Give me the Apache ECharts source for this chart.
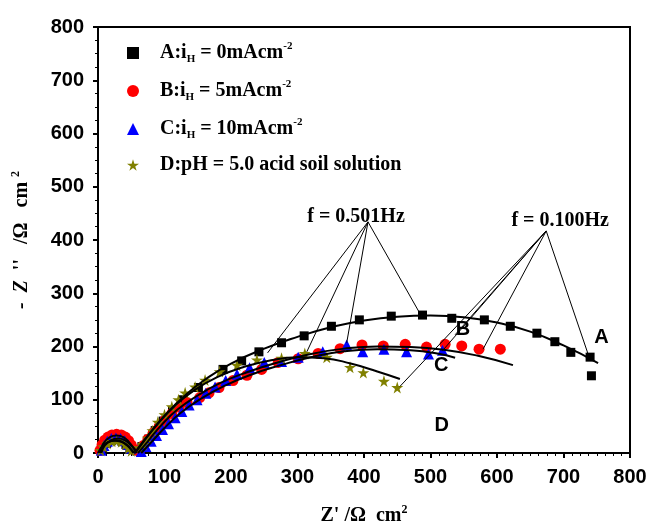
<!DOCTYPE html>
<html>
<head>
<meta charset="utf-8">
<script src="https://cdn.jsdelivr.net/npm/echarts@6/dist/echarts.min.js"></script>
<style>
  html, body { margin: 0; padding: 0; background: #fff; }
  #chart { width: 658px; height: 524px; }
</style>
</head>
<body>
<div id="chart"></div>
<script>
  // measured points, [Z', -Z'']
  const seriesA = [[7, 10], [13, 18], [20, 23], [28, 25], [36, 22], [42, 16], [48, 8],
    [58, 4], [66, 12], [76, 26], [86, 42], [98, 60], [112, 80], [128, 100], [151, 123], [188, 157],
    [216, 173], [242, 190], [276, 207], [310, 220], [351, 238], [393, 250], [441, 257], [488, 259],
    [532, 253], [581, 250], [620, 238], [660, 225], [687, 209], [711, 189], [740, 180], [742, 145]]
  const seriesB = [[3, 5], [6, 15], [10, 24], [15, 30], [21, 34], [28, 35], [35, 34], [41, 30], [46, 23], [50, 15], [54, 7],
    [62, 3], [68, 14], [75, 26], [83, 38], [92, 50], [101, 62], [111, 74], [122, 86], [134, 95], [153, 104],
    [167, 113], [182, 123], [203, 136], [224, 146], [246, 157], [271, 170], [301, 177], [331, 187], [364, 196],
    [397, 203], [429, 201], [462, 204], [494, 199], [522, 204], [547, 201], [573, 195], [605, 195]]
  const seriesC = [[5, 5], [9, 14], [14, 22], [20, 27], [27, 28], [34, 27], [40, 23], [45, 16], [49, 9],
    [65, 3], [72, 12], [80, 22], [88, 33], [97, 44], [106, 55], [116, 66], [126, 78], [137, 90], [149, 100],
    [162, 112], [176, 124], [192, 136], [209, 148], [228, 160], [250, 170], [276, 172], [301, 180], [338, 190],
    [374, 203], [398, 190], [430, 195], [464, 190], [497, 186], [518, 193]]
  const seriesD = [[4, 5], [8, 12], [14, 18], [21, 22], [28, 23], [35, 21], [41, 16], [46, 9], [50, 4],
    [62, 10], [68, 16], [75, 28], [82, 42], [90, 58], [100, 72], [111, 87], [121, 100], [131, 113], [146, 124],
    [161, 137], [183, 153], [209, 165], [239, 175], [276, 178], [311, 187], [344, 180], [379, 161], [399, 151],
    [430, 135], [450, 123]]

  // fitted curves
  const fitArcs = [
    [[2, 0], [8, 14], [18, 22], [28, 24], [38, 20], [46, 12], [52, 4], [56, 0]],
    [[3, 0], [8, 18], [18, 30], [28, 33], [38, 30], [47, 20], [54, 8], [58, 0]],
    [[5, 0], [10, 14], [20, 24], [30, 27], [40, 24], [50, 14], [58, 3]],
    [[0, 0], [6, 12], [15, 20], [25, 23], [35, 21], [44, 14], [50, 6], [53, 0]]
  ]
  const fitA = [[56, 0], [65, 15], [80, 40], [100, 70], [130, 107], [160, 137], [200, 168], [250, 196], [300, 218],
    [350, 236], [400, 249], [450, 256], [500, 258], [550, 255], [600, 245], [650, 228], [700, 202], [752, 169]]
  const fitB = [[60, 0], [75, 22], [95, 52], [120, 82], [150, 108], [185, 132], [225, 152], [270, 170], [320, 186],
    [370, 196], [420, 200], [470, 199], [520, 194], [570, 183], [624, 165]]
  const fitC = [[65, 0], [80, 20], [100, 47], [125, 76], [155, 102], [190, 126], [230, 147], [275, 165], [320, 180],
    [370, 191], [420, 195], [470, 193], [510, 187], [537, 179]]
  const fitD = [[55, 0], [70, 25], [90, 55], [115, 88], [145, 118], [180, 143], [220, 162], [260, 174], [300, 180],
    [340, 178], [380, 168], [420, 153], [454, 139]]

  // frequency pointers
  const apex501 = [406, 434]
  const ends501 = [[255, 188], [314, 190], [374, 207], [485, 260]]
  const apex100 = [674, 417]
  const ends100 = [[454, 125], [518, 192], [537, 222], [579, 195], [738, 182]]
  const freqLabels = [[388, 444, 'f = 0.501Hz'], [695, 436, 'f = 0.100Hz']]
  const curveLabels = [[757, 216, 'A'], [549, 232, 'B'], [516, 164, 'C'], [517, 52, 'D']]

  const legendText = {
    A: '{g| }{b|A:i}{s|H}{b| = 0mAcm}{p|-2}',
    B: '{g| }{b|B:i}{s|H}{b| = 5mAcm}{p|-2}',
    C: '{g| }{b|C:i}{s|H}{b| = 10mAcm}{p|-2}',
    D: '{g| }{b|D:pH = 5.0 acid soil solution}'
  }

  const star = 'path://M50,0 L61,35 L98,35 L68,57 L79,91 L50,70 L21,91 L32,57 L2,35 L39,35 Z'
  const serif = 'Liberation Serif'
  const sans = 'Liberation Sans'

  const chart = echarts.init(document.getElementById('chart'))

  const fitLine = (data) => ({
    type: 'line',
    data: data,
    smooth: true,
    showSymbol: false,
    symbol: 'none',
    silent: true,
    z: 5,
    lineStyle: {color: '#000', width: 2}
  })

  const pointerLines = []
  ends501.forEach(e => pointerLines.push({coords: [apex501, e]}))
  ends100.forEach(e => pointerLines.push({coords: [apex100, e]}))

  const series = [
    {name: 'A', type: 'scatter', data: seriesA, symbol: 'rect', symbolSize: 9, itemStyle: {color: '#000', opacity: 1}, z: 3},
    {name: 'B', type: 'scatter', data: seriesB, symbol: 'circle', symbolSize: 11, itemStyle: {color: '#ff0000', opacity: 1}, z: 3},
    {name: 'C', type: 'scatter', data: seriesC, symbol: 'triangle', symbolSize: 11, itemStyle: {color: '#0000ff', opacity: 1}, z: 3},
    {name: 'D', type: 'scatter', data: seriesD, symbol: star, symbolSize: 12, itemStyle: {color: '#808000', opacity: 1}, z: 3},
  ]
  fitArcs.forEach(a => series.push(fitLine(a)))
  ;[fitA, fitB, fitC, fitD].forEach(f => series.push(fitLine(f)))
  series.push({
    type: 'lines',
    coordinateSystem: 'cartesian2d',
    silent: true,
    z: 6,
    lineStyle: {color: '#000', width: 1, opacity: 1},
    data: pointerLines
  })

  const richBase = {fontFamily: serif, fontWeight: 'bold', color: '#000'}

  chart.setOption({
    animation: false,
    backgroundColor: '#fff',
    grid: {
      left: 98, right: 28, top: 27, bottom: 71,
      show: true, borderColor: '#000', borderWidth: 2,
      outerBoundsMode: 'none'
    },
    legend: {
      data: ['A', 'B', 'C', 'D'],
      orient: 'vertical',
      left: 122,
      top: 36,
      itemWidth: 12,
      itemHeight: 12,
      itemGap: 14,
      selectedMode: false,
      formatter: name => legendText[name],
      textStyle: {
        rich: {
          g: {width: 16, fontSize: 10},
          b: Object.assign({fontSize: 20, lineHeight: 24}, richBase),
          s: Object.assign({fontSize: 11, lineHeight: 11, verticalAlign: 'bottom'}, richBase),
          p: Object.assign({fontSize: 11, lineHeight: 11, verticalAlign: 'top'}, richBase)
        }
      }
    },
    xAxis: {
      type: 'value',
      min: 0, max: 800, interval: 100,
      name: '{n|Z\' /Ω  cm}{p|2}',
      nameLocation: 'middle',
      nameGap: 51,
      nameTextStyle: {
        rich: {
          n: Object.assign({fontSize: 20, lineHeight: 24}, richBase),
          p: Object.assign({fontSize: 12, lineHeight: 12, verticalAlign: 'top'}, richBase)
        }
      },
      axisLine: {show: true, lineStyle: {color: '#000', width: 2}},
      axisTick: {show: true, length: 5, lineStyle: {color: '#000', width: 2}},
      minorTick: {show: true, splitNumber: 8, length: 3, lineStyle: {color: '#000', width: 1}},
      splitLine: {show: false},
      minorSplitLine: {show: false},
      axisLabel: {fontFamily: sans, fontWeight: 'bold', fontSize: 20, color: '#000', margin: 14}
    },
    yAxis: {
      type: 'value',
      min: 0, max: 800, interval: 100,
      name: '{i|-  Z}{n|  \'\'   /Ω   cm }{p|2}',
      nameLocation: 'middle',
      nameGap: 64,
      nameTextStyle: {
        rich: {
          i: Object.assign({fontSize: 20, lineHeight: 24, fontStyle: 'italic'}, richBase),
          n: Object.assign({fontSize: 20, lineHeight: 24}, richBase),
          p: Object.assign({fontSize: 12, lineHeight: 12, verticalAlign: 'top'}, richBase)
        }
      },
      axisLine: {show: true, lineStyle: {color: '#000', width: 2}},
      axisTick: {show: true, length: 5, lineStyle: {color: '#000', width: 2}},
      minorTick: {show: true, splitNumber: 4, length: 3, lineStyle: {color: '#000', width: 1}},
      splitLine: {show: false},
      minorSplitLine: {show: false},
      axisLabel: {fontFamily: sans, fontWeight: 'bold', fontSize: 20, color: '#000', margin: 14}
    },
    series: series
  })

  // annotation texts, placed through the axes' own scales
  const toText = (item, font) => {
    const pt = chart.convertToPixel({gridIndex: 0}, [item[0], item[1]])
    return {
      type: 'text',
      x: pt[0], y: pt[1],
      z: 100,
      silent: true,
      style: {
        text: item[2], fill: '#000',
        font: 'bold 20px "' + font + '"',
        textAlign: 'center', textVerticalAlign: 'middle'
      }
    }
  }
  chart.setOption({
    graphic: freqLabels.map(l => toText(l, serif)).concat(curveLabels.map(l => toText(l, sans)))
  })
</script>
</body>
</html>
